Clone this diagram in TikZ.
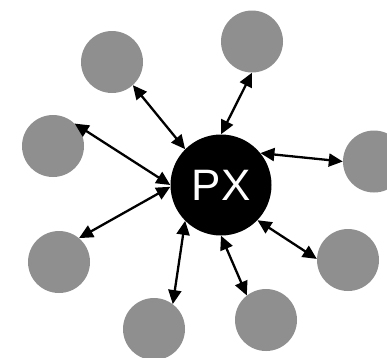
\documentclass[tikz,border=0pt]{standalone}
\usepackage{fontspec}
\newfontfamily\hubfont{Liberation Sans}
\usetikzlibrary{arrows.meta}
\definecolor{peer}{HTML}{8F8F8F}
\begin{document}
\begin{tikzpicture}[x=1pt,y=-1pt,
  hub/.style={circle,fill=black,minimum size=101pt,inner sep=0pt,text=white,font=\hubfont\fontsize{44}{44}\selectfont},
  peernode/.style={circle,fill=peer,minimum size=62pt,inner sep=0pt},
  link/.style={line width=2.3pt,{Triangle[length=14pt,width=13pt]}-{Triangle[length=14pt,width=13pt]}}]
\useasboundingbox (0,0) rectangle (387,357);
\clip (0,0) rectangle (387,357);
% central node
\node[hub] (px) at (221,185) {PX};
% surrounding nodes
\node[peernode] (n1) at (112,62) {};
\node[peernode] (n2) at (252,41.5) {};
\node[peernode] (n3) at (53,146) {};
\node[peernode] (n4) at (374,161.5) {};
\node[peernode] (n5) at (59,262) {};
\node[peernode] (n6) at (348,260) {};
\node[peernode] (n7) at (154,329) {};
\node[peernode] (n8) at (266,320) {};
% two-way links
\draw[link] (n1.-48) -- (px.135);
\draw[link] (n2.-90) -- (px.90);
\draw[link] (n3.46) -- (px.180);
\draw[link] (n4.180) -- (px.39);
\draw[link] (n5.50) -- (px.182);
\draw[link] (n6.178) -- (px.-44);
\draw[link] (n7.53) -- (px.225);
\draw[link] (n8.128) -- (px.270);
\end{tikzpicture}
\end{document}
